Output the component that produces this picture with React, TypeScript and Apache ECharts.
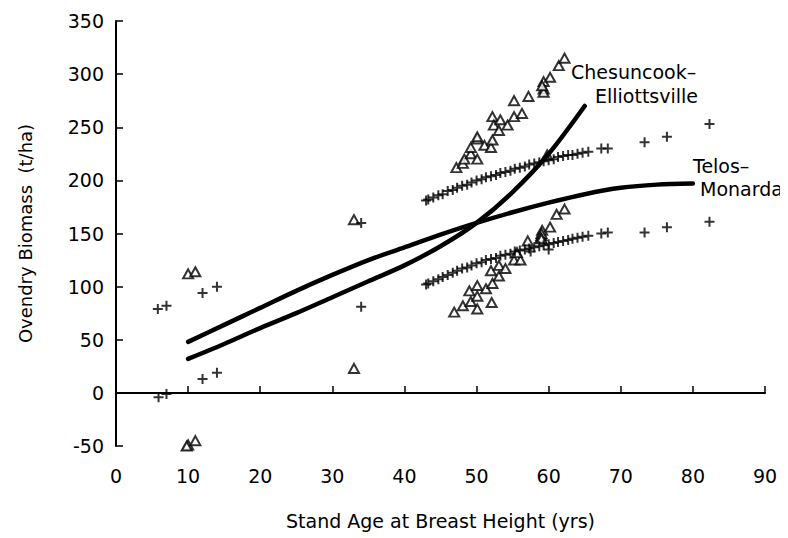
import React, { useEffect, useRef } from "react";
import * as echarts from "echarts";

// Tick values
const xTicks = { min: 0, max: 90, interval: 10 };
const yTicks = { min: -50, max: 350, interval: 50 };

// Triangles (observed)
const triLeft: number[][] = [
  [10, 112], [11, 114], [10, -49], [9.8, -50], [11, -45], [33, 163], [33, 23],
];
const triUpper: number[][] = [
  [47.2, 212], [48.1, 216], [48.3, 220], [49.2, 225], [49.2, 231], [50.1, 239], [50.1, 220],
  [50.1, 241], [51.1, 233], [52, 231], [52.2, 238], [52.2, 260], [52.4, 252], [53.3, 257],
  [53.1, 247], [54.3, 252], [55.2, 260], [56.3, 263], [55.2, 275], [57.2, 279], [59.3, 293],
  [60.2, 297], [59.3, 286], [59.3, 283], [59.1, 289], [61.4, 308], [62.2, 315], [59.8, 224],
];
const triLower: number[][] = [
  [46.9, 76], [48.1, 82], [49, 96], [49.2, 86], [50.1, 91], [50.1, 101], [50.1, 79],
  [51.3, 98], [52.2, 103], [52.1, 85], [52, 115], [53.1, 110], [53.1, 120], [54, 117],
  [55.2, 125], [56.1, 125], [55.6, 132], [57.1, 143], [59.1, 153], [60.2, 156], [61.1, 168],
  [62.2, 173], [59, 148], [59, 150], [58.9, 146], [59, 145],
];

// Plus markers (observed)
const plusLeft: number[][] = [
  [5.8, 79], [7, 82], [5.9, -4], [7, -1], [12, 94], [14, 100], [12, 13], [14, 19],
  [34, 160], [34, 81],
];
const plusUpper: number[][] = [
  [43, 181], [43.3, 182], [44, 184], [44.7, 186], [45.3, 187], [46, 190], [46.7, 191],
  [47.3, 193], [48, 195], [48.7, 196], [49.3, 198], [50, 200], [50.7, 201], [51.3, 203],
  [52, 204], [52.7, 205], [53.3, 207], [54, 208], [54.7, 209], [55.3, 211], [56, 212],
  [56.7, 213], [57.3, 215], [58, 216], [58.7, 217], [59.3, 218], [60, 219], [60.7, 220],
  [61.3, 222], [62, 223], [62.7, 224], [63.3, 224], [64, 225], [64.7, 226], [65.5, 227],
  [67.3, 230], [68.2, 230], [73.3, 236], [76.4, 241], [82.3, 253],
];
const plusLower: number[][] = [
  [43, 102], [43.3, 103], [44, 105], [44.7, 107], [45.3, 109], [46, 111], [46.7, 113],
  [47.3, 115], [48, 117], [48.7, 118], [49.3, 120], [50, 122], [50.7, 123], [51.3, 125],
  [52, 126], [52.7, 127], [53.3, 129], [54, 130], [54.7, 131], [55.3, 133], [56, 134],
  [56.7, 135], [57.3, 136], [58, 137], [58.7, 138], [59.3, 139], [60, 140], [60.7, 141],
  [61.3, 142], [62, 143], [62.7, 144], [63.3, 145], [64, 146], [64.7, 147], [65.5, 148],
  [67.3, 150], [68.2, 151], [73.3, 151], [76.4, 156], [82.3, 161], [57.5, 133], [60, 135],
];

// Fitted curves
const telosCurve: number[][] = [
  [10, 48], [15, 64], [20, 80], [25, 96], [30, 111], [35, 125], [40, 137], [45, 149],
  [50, 160], [55, 170], [60, 179], [65, 187], [70, 193], [75, 196], [80, 197],
];
const chesCurve: number[][] = [
  [10, 32], [15, 46], [20, 61], [25, 75], [30, 90], [35, 105], [40, 120], [45, 138],
  [50, 160], [55, 189], [60, 225], [65, 270],
];

const curveLabels = [
  { text: "Chesuncook–", x: 571, y: 73 },
  { text: "Elliottsville", x: 595, y: 97 },
  { text: "Telos–", x: 693, y: 167 },
  { text: "Monarda", x: 700, y: 190 },
];

const FONT = "DejaVu Sans";
const PLUS =
  "path://M4,0L6,0L6,4L10,4L10,6L6,6L6,10L4,10L4,6L0,6L0,4L4,4Z";
const OFFSET = 8; // body margin

export default function App() {
  const ref = useRef<HTMLDivElement>(null);
  useEffect(() => {
    if (!ref.current) return;
    const chart = echarts.init(ref.current, undefined, { renderer: "svg" });
    const triStyle = {
      type: "scatter" as const,
      symbol: "triangle",
      symbolSize: [10, 9],
      itemStyle: { color: "#fff", borderColor: "#000", borderWidth: 2 },
      z: 3,
    };
    const plusStyle = {
      type: "scatter" as const,
      symbol: PLUS,
      symbolSize: 10,
      itemStyle: { color: "#000" },
      z: 3,
    };
    const lineStyle = {
      type: "line" as const,
      smooth: 0.3,
      showSymbol: false,
      symbol: "none",
      lineStyle: { color: "#000", width: 4.5, cap: "round", join: "round" },
      z: 4,
    };
    chart.setOption({
      animation: false,
      backgroundColor: "#fff",
      grid: { left: 110 - OFFSET, right: 23, top: 21 - OFFSET, bottom: 92, containLabel: false },
      xAxis: {
        type: "value",
        min: xTicks.min,
        max: xTicks.max,
        interval: xTicks.interval,
        name: "Stand Age at Breast Height (yrs)",
        nameLocation: "middle",
        nameGap: 65,
        nameTextStyle: { fontFamily: FONT, fontSize: 19, color: "#000" },
        axisLine: { lineStyle: { color: "#000", width: 2 } },
        axisTick: { inside: true, length: 7, lineStyle: { color: "#000", width: 1.5 } },
        axisLabel: { fontFamily: FONT, fontSize: 19, color: "#000", margin: 20 },
        splitLine: { show: false },
      },
      yAxis: {
        type: "value",
        min: yTicks.min,
        max: yTicks.max,
        interval: yTicks.interval,
        name: "Ovendry Biomass  (t/ha)",
        nameLocation: "middle",
        nameGap: 82,
        nameTextStyle: { fontFamily: FONT, fontSize: 18, color: "#000" },
        axisLine: { show: true, lineStyle: { color: "#000", width: 2 } },
        axisTick: { show: true, inside: true, length: 7, lineStyle: { color: "#000", width: 1.5 } },
        axisLabel: { fontFamily: FONT, fontSize: 19, color: "#000", margin: 12 },
        splitLine: { show: false },
      },
      graphic: curveLabels.map((l) => ({
        type: "text",
        left: l.x - OFFSET,
        top: l.y - 11 - OFFSET,
        style: { text: l.text, font: `19px "${FONT}"`, fill: "#000" },
      })),
      series: [
        { ...lineStyle, name: "Telos-Monarda", data: telosCurve },
        { ...lineStyle, name: "Chesuncook-Elliottsville", data: chesCurve },
        { ...triStyle, name: "triLeft", data: triLeft },
        { ...triStyle, name: "triUpper", data: triUpper },
        { ...triStyle, name: "triLower", data: triLower },
        { ...plusStyle, name: "plusLeft", data: plusLeft },
        { ...plusStyle, name: "plusUpper", data: plusUpper },
        { ...plusStyle, name: "plusLower", data: plusLower },
      ],
    });
    return () => chart.dispose();
  }, []);
  return <div ref={ref} style={{ width: 780, height: 530 }} />;
}
